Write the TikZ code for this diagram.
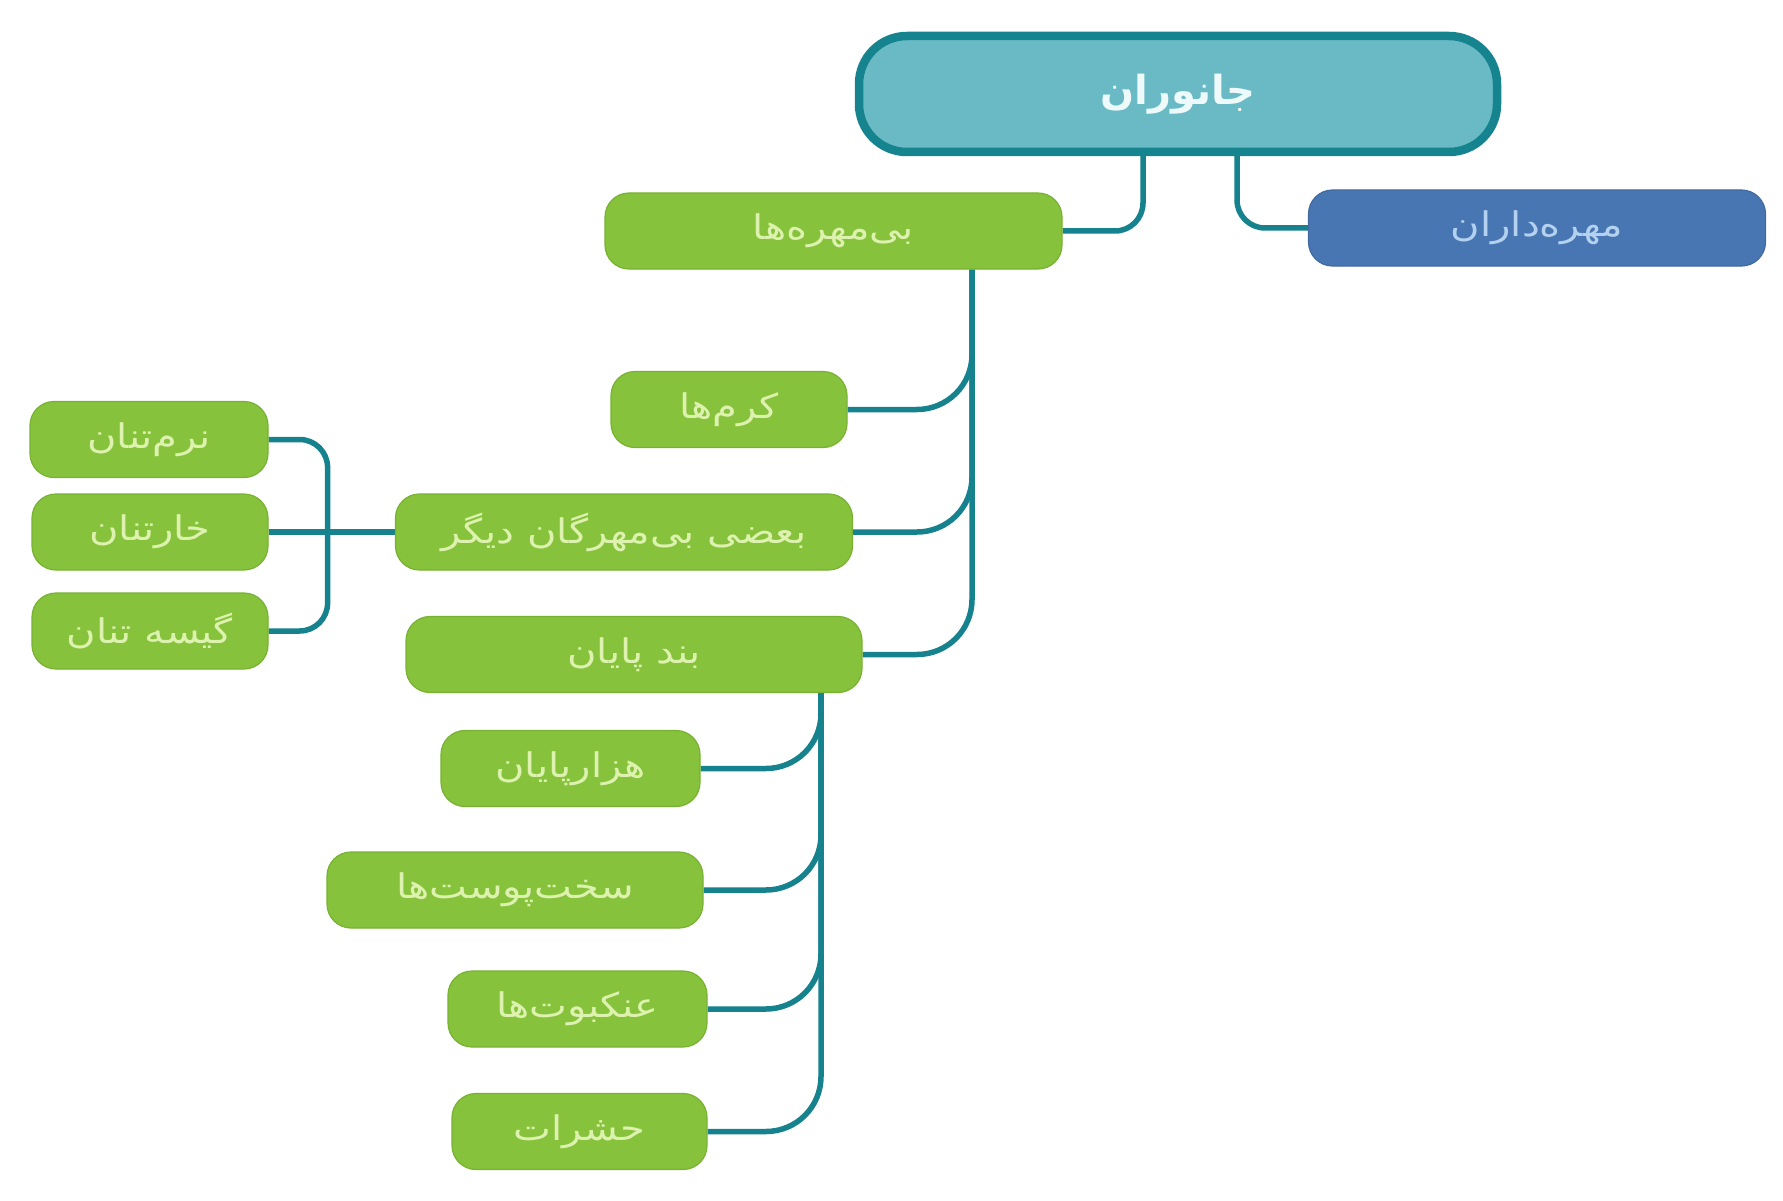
\documentclass[tikz,border=0pt]{standalone}
\usepackage{fontspec}
\usetikzlibrary{backgrounds}
\newfontfamily\arabicfont[Script=Arabic, FakeStretch=1.18]{DejaVu Sans}
\newfontfamily\arabicroot[Script=Arabic]{DejaVu Sans}
\TeXXeTstate=1
\newcommand\myzw{^^^^200c}
\definecolor{gfill}{RGB}{134,194,60}
\definecolor{gline}{RGB}{120,178,50}
\definecolor{gtext}{RGB}{222,242,175}
\definecolor{bfill}{RGB}{72,118,178}
\definecolor{btext}{RGB}{180,210,240}
\definecolor{rfill}{RGB}{106,186,198}
\definecolor{rline}{RGB}{22,132,142}
\definecolor{rtext}{RGB}{238,250,250}
\definecolor{conncol}{RGB}{22,130,142}
\tikzset{
  gbox/.style={draw=gline, line width=1.2pt, fill=gfill, text=gtext, rounded corners=24pt,
    minimum height=76pt, inner sep=0pt, font=\arabicfont\fontsize{34}{40}\selectfont},
  bbox/.style={gbox, draw=bfill!90!black, fill=bfill, text=btext},
  rbox/.style={draw=rline, line width=8.5pt, fill=rfill, text=rtext, rounded corners=48pt,
    minimum height=116pt, inner sep=0pt, font=\arabicroot\bfseries\fontsize{40}{46}\selectfont},
  conn/.style={draw=conncol, line width=5.5pt},
}
\begin{document}
\begin{tikzpicture}[x=1pt,y=-1pt]
\useasboundingbox (0,0) rectangle (1783,1201);

% nodes
\node[rbox, minimum width=638pt] (root) at (1178,94) {\beginR جانوران\endR};
\node[gbox, minimum width=457pt] (bimo) at (833.5,231) {\beginR بی\myzw مهره\myzw ها\endR};
\node[bbox, minimum width=457pt] (mohre) at (1537,228) {\beginR مهره\myzw داران\endR};

\node[gbox, minimum width=236pt] (kerm) at (729,409.5) {\beginR کرم\myzw ها\endR};
\node[gbox, minimum width=457pt] (baazi) at (624,532) {\beginR بعضی بی\myzw مهرگان دیگر\endR};
\node[gbox, minimum width=456pt] (band) at (634,654.5) {\beginR بند پایان\endR};

\node[gbox, minimum width=238pt] (narm) at (149,439.5) {\beginR نرم\myzw تنان\endR};
\node[gbox, minimum width=236pt] (khar) at (150,532) {\beginR خارتنان\endR};
\node[gbox, minimum width=236pt] (kise) at (150,631) {\beginR گیسه تنان\endR};

\node[gbox, minimum width=259pt] (hezar) at (570.5,768.5) {\beginR هزارپایان\endR};
\node[gbox, minimum width=376pt] (sakht) at (515,890) {\beginR سخت\myzw پوست\myzw ها\endR};
\node[gbox, minimum width=259pt] (ankab) at (577.5,1009) {\beginR عنکبوت\myzw ها\endR};
\node[gbox, minimum width=255pt] (hash) at (579.5,1131.5) {\beginR حشرات\endR};

% connectors (behind nodes)
\begin{scope}[on background layer]
\fill[white] (0,0) rectangle (1783,1201);
\draw[conn, rounded corners=28pt] ([xshift=-35pt]root.south) |- (bimo.east);
\draw[conn, rounded corners=28pt] ([xshift=59pt]root.south) |- (mohre.west);

\coordinate (t1) at ([xshift=138.5pt]bimo.south);
\draw[conn, rounded corners=55pt] (t1) |- (band.east);
\draw[conn, rounded corners=55pt] (kerm.east) -| (t1);
\draw[conn, rounded corners=55pt] (baazi.east) -| (t1);

\draw[conn, rounded corners=28pt] (narm.east) -| ([xshift=59pt]kise.east) -- (kise.east);
\draw[conn] (khar.east) -- (baazi.west);

\coordinate (t2) at ([xshift=187pt]band.south);
\draw[conn, rounded corners=55pt] (t2) |- (hash.east);
\draw[conn, rounded corners=55pt] (hezar.east) -| (t2);
\draw[conn, rounded corners=55pt] (sakht.east) -| (t2);
\draw[conn, rounded corners=55pt] (ankab.east) -| (t2);
\end{scope}
\end{tikzpicture}
\end{document}
